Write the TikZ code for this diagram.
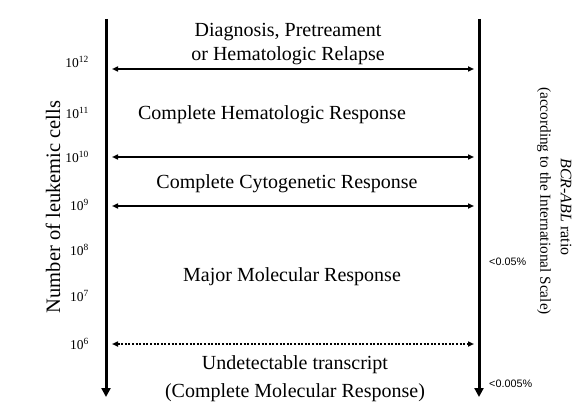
\documentclass[tikz,border=0pt]{standalone}
\usepackage{fontspec}
\setmainfont{Liberation Serif}
\newfontfamily\sanslabel{Liberation Sans}
\usetikzlibrary{arrows.meta}
\begin{document}
\begin{tikzpicture}[x=1pt,y=-1pt,
  axisline/.style={line width=3pt,-{Triangle[length=9pt,width=9pt]}},
  levelarrow/.style={line width=1.6pt,{Triangle[length=6pt,width=5pt]}-{Triangle[length=6pt,width=5pt]}},
  dotarrow/.style={levelarrow,dash pattern=on 2pt off 1.6pt},
  tick/.style={anchor=east,font=\fontsize{13.5}{15}\selectfont,inner sep=0pt},
  band/.style={font=\fontsize{20}{24}\selectfont,align=center,inner sep=0pt},
  pct/.style={anchor=west,font=\sanslabel\fontsize{10.8}{12}\selectfont,inner sep=0pt}]
\useasboundingbox (0,0) rectangle (585,406);
% axes
\coordinate (ltop) at (106,19);
\coordinate (lbot) at (106,397);
\coordinate (rtop) at (479,19);
\coordinate (rbot) at (479,397);
\draw[axisline] (ltop) -- (lbot);
\draw[axisline] (rtop) -- (rbot);
% level arrows
\coordinate (a1l) at (112,69);  \coordinate (a1r) at (474,69);
\coordinate (a2l) at (112,157); \coordinate (a2r) at (474,157);
\coordinate (a3l) at (112,206); \coordinate (a3r) at (474,206);
\coordinate (a4l) at (112,344); \coordinate (a4r) at (474,344);
\draw[levelarrow] (a1l) -- (a1r);
\draw[levelarrow] (a2l) -- (a2r);
\draw[levelarrow] (a3l) -- (a3r);
\draw[dotarrow] (a4l) -- (a4r);
% ticks
\node[tick] (t12) at (89,62)  {10\textsuperscript{12}};
\node[tick] (t11) at (89,113) {10\textsuperscript{11}};
\node[tick] (t10) at (89,157) {10\textsuperscript{10}};
\node[tick] (t9)  at (89,205) {10\textsuperscript{9}};
\node[tick] (t8)  at (89,250) {10\textsuperscript{8}};
\node[tick] (t7)  at (89,296) {10\textsuperscript{7}};
\node[tick] (t6)  at (89,344) {10\textsuperscript{6}};
% axis label
\node[rotate=90,font=\fontsize{20.5}{24}\selectfont,inner sep=0pt] (ylab) at (53,207) {Number of leukemic cells};
% band texts
\node[band] (b1) at (288,44) {Diagnosis, Pretreament\\or Hematologic Relapse};
\node[band] (b2) at (272,115) {Complete Hematologic Response};
\node[band] (b3) at (287,184) {Complete Cytogenetic Response};
\node[band] (b4) at (292,277) {Major Molecular Response};
\node[band,font=\fontsize{20}{28}\selectfont] (b5) at (295,379) {Undetectable transcript\\(Complete Molecular Response)};
% right labels
\node[rotate=-90,font=\fontsize{16}{18}\selectfont,inner sep=0pt] (rlab1) at (566,207) {\textit{BCR-ABL} ratio};
\node[rotate=-90,font=\fontsize{15.3}{17}\selectfont,inner sep=0pt] (rlab2) at (544,201) {(according to the International Scale)};
\node[pct] (p1) at (489,262) {<0.05\%};
\node[pct] (p2) at (489,384) {<0.005\%};
\end{tikzpicture}
\end{document}
